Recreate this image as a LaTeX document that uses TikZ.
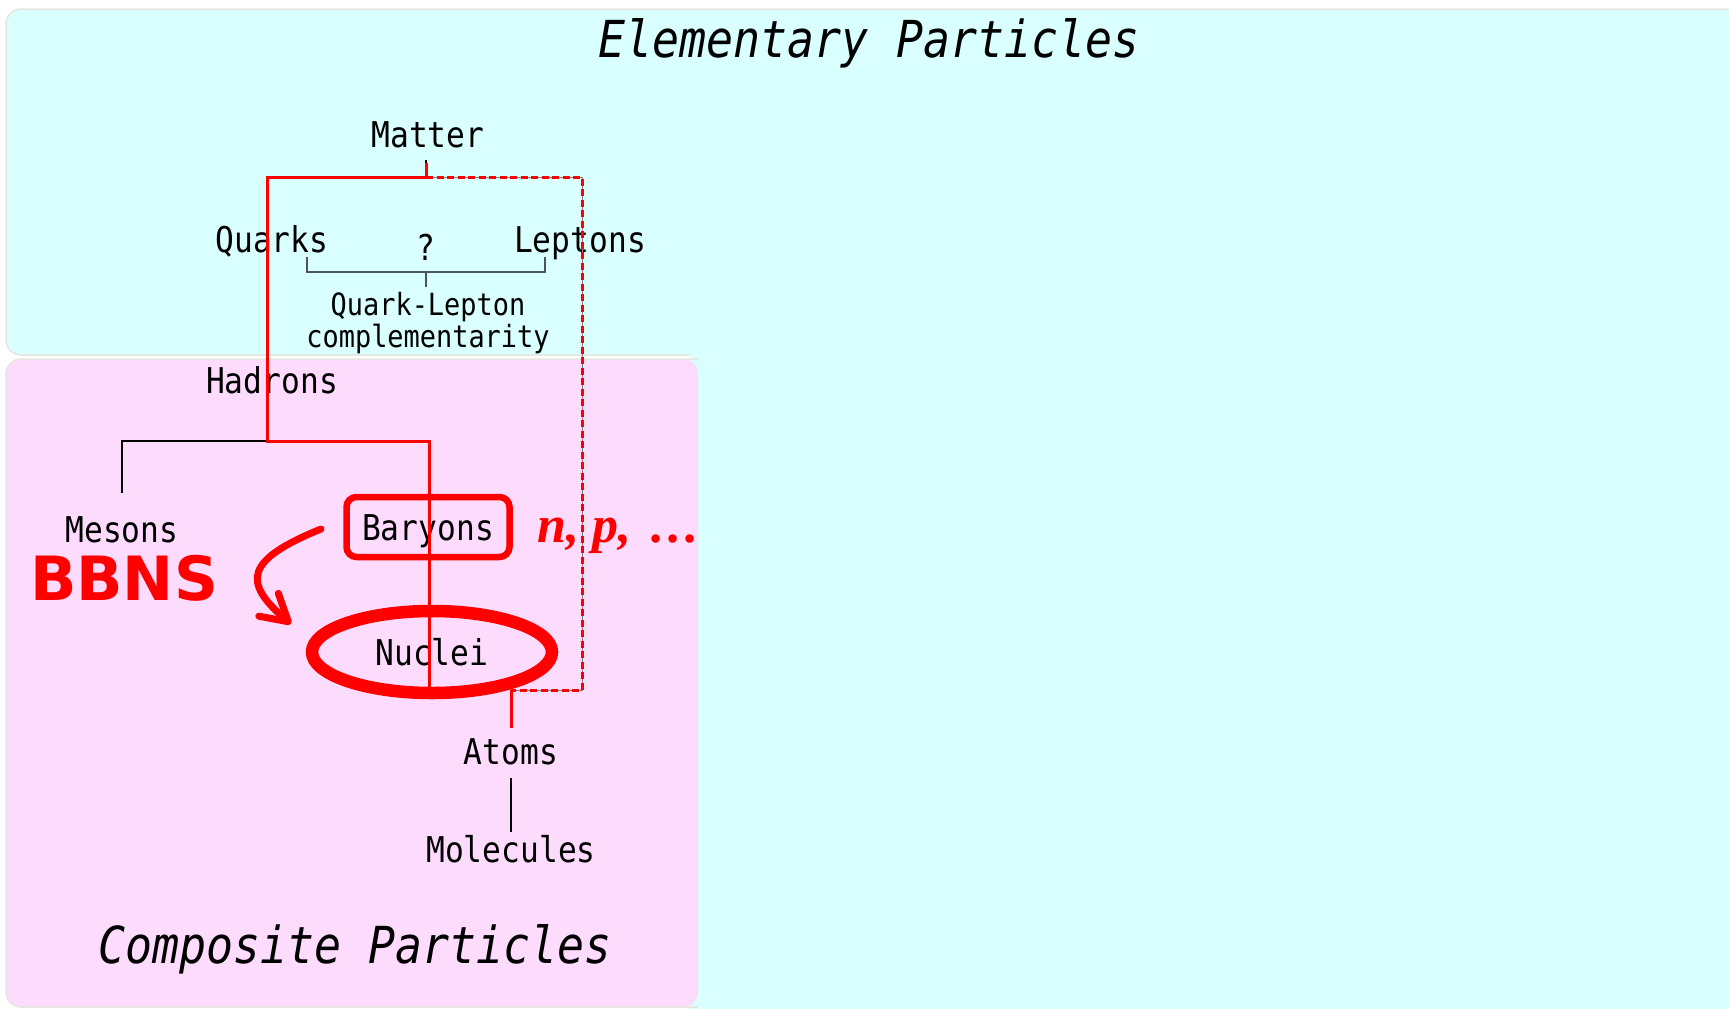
\documentclass[tikz,border=0pt]{standalone}
\usepackage{fontspec}
\usetikzlibrary{arrows.meta,positioning,shapes.geometric}
\newfontfamily\monofont[FakeStretch=0.88]{DejaVu Sans Mono}
\newfontfamily\npfont{Liberation Serif}
\newfontfamily\bbnsfont{DejaVu Sans}
\definecolor{cyanbg}{RGB}{217,255,255}
\definecolor{pinkbg}{RGB}{253,219,253}
\definecolor{edgegray}{RGB}{230,230,224}
\definecolor{bracketgray}{RGB}{75,85,85}

\begin{document}
\begin{tikzpicture}[
    x=1pt, y=-1pt,
    txt/.style={font=\monofont\fontsize{35.5}{40}\selectfont, text height=26pt, text depth=0pt, inner sep=0pt},
    notetxt/.style={font=\monofont\fontsize{30.6}{32}\selectfont, align=center, inner sep=0pt},
    headline/.style={font=\monofont\itshape\fontsize{51}{56}\selectfont, text height=37pt, text depth=0pt, inner sep=0pt},
    treeline/.style={black, line width=1.2pt},
    bracketline/.style={bracketgray, line width=1.5pt},
    route/.style={red, line width=3pt},
    routedash/.style={red, line width=3pt, dash pattern=on 7pt off 3.5pt}
]

\useasboundingbox (0,0) rectangle (1729,1009);

% panels
\fill[white] (0,0) rectangle (1729,1009);
\draw[edgegray, line width=1.5pt, fill=cyanbg, rounded corners=15pt] (6,9) rectangle (1745,355);
\fill[cyanbg] (690,352) rectangle (1729,1009);
\fill[pinkbg, rounded corners=15pt] (6,359) rectangle (698,1007);
\draw[edgegray, line width=1.5pt, rounded corners=15pt] (698,359) -- (6,359) -- (6,1007) -- (698,1007);

\node[headline] (elementary) at (869,39) {Elementary Particles};
\node[headline] (composite) at (355,945) {Composite Particles};

\node[txt] (matter) at (428,134) {Matter};
\node[txt] (quarks) at (272,239) {Quarks};
\node[txt] (leptons) at (580,239) {Leptons};
\node[txt] (qmark) at (426,247) {?};
\node[notetxt, anchor=north] (qlc) at (428,292) {Quark-Lepton\\complementarity};
\node[txt] (hadrons) at (272,380) {Hadrons};
\node[txt] (mesons) at (122,529) {Mesons};
\node[txt, draw=red, line width=6.5pt, rounded corners=10pt, minimum width=163pt, minimum height=60pt] (baryons) at (428,527) {Baryons};
\node[font=\npfont\bfseries\itshape\fontsize{52}{56}\selectfont, text=red, text height=30pt, text depth=0pt, inner sep=0pt, anchor=west, right=25pt of baryons] (nucleons) {n, p,\hspace{20pt}.\hspace{4pt}.\hspace{4pt}.};
\node[font=\bbnsfont\bfseries\fontsize{61}{64}\selectfont, text=red, text height=45pt, text depth=0pt, inner sep=0pt] (bbns) at (124,578) {BBNS};
\node[txt, ellipse, draw=red, line width=12.5pt, minimum width=240pt, minimum height=82pt] (nuclei) at (432,652) {Nuclei};
\node[txt] (atoms) at (511,751) {Atoms};
\node[txt] (molecules) at (511,849) {Molecules};

\coordinate (mjoin) at (426,177);
\coordinate (qcorner) at (267,177);
\coordinate (hjoin) at (267,441);
\coordinate (bjoin) at (429,441);
\coordinate (lcorner) at (582,177);
\coordinate (acorner) at (582,690);
\coordinate (ajoin) at (511,690);
\coordinate (qbr) at (307,257);
\coordinate (lbr) at (545,257);
\coordinate (brmid) at (426,272);
\coordinate (bbnsfrom) at (321,529);
\coordinate (bbnsto) at (291,624);

% tree
\draw[treeline] ([yshift=-13pt]matter.south -| mjoin) -- (mjoin);
\draw[bracketline] (qbr) -- ++(0,15) -| (lbr);
\draw[bracketline] (brmid) -- ([yshift=5pt]qlc.north -| brmid);
\draw[treeline] ([yshift=23pt]mesons.north) |- (hjoin);
\draw[treeline] ([yshift=-14pt]atoms.south) -- ([yshift=4pt]molecules.north);

% red route
\draw[route] ([yshift=-16pt]matter.south -| mjoin) -- (mjoin) -- (qcorner) -- (hjoin) -- (bjoin) -- (bjoin |- nuclei.south);
\draw[gray, line width=1pt] (mjoin) -- (lcorner) -- (acorner) -- (ajoin);
\draw[routedash] (mjoin) -- (lcorner) -- (acorner) -- (ajoin);
\draw[route] (ajoin) -- ([yshift=10pt]atoms.north);

\draw[red, line width=7pt, line cap=round, -{Straight Barb[round, length=26pt, width=30pt]}] (bbnsfrom) .. controls (245,560) and (242,582) .. (bbnsto);

\end{tikzpicture}
\end{document}
